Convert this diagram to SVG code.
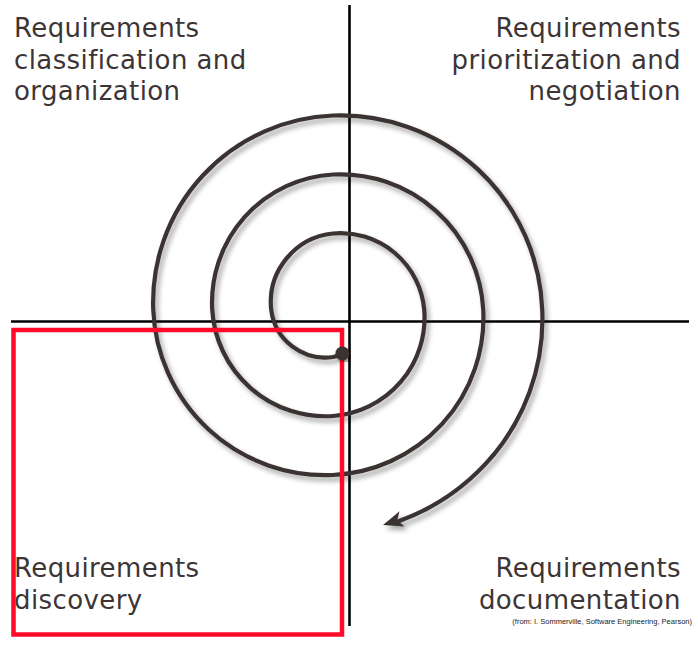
<svg xmlns="http://www.w3.org/2000/svg" width="698" height="648" viewBox="0 0 698 648">
  <style>
    .lbl { font-family: "DejaVu Sans", "Noto Sans", sans-serif; font-size: 26px; letter-spacing: 0.4px; fill: #3d3535; }
    .end { text-anchor: end; }
    .axis { stroke: #000; stroke-width: 2.6; fill: none; }
    .spiral { stroke: #3b3233; stroke-width: 4.2; fill: none; stroke-linecap: round; }
    .head { fill: #3b3233; }
    .frame { stroke: #ff0a2a; stroke-width: 4.5; fill: none; }
    .cite { font-family: "Liberation Sans", Arial, sans-serif; font-size: 7.5px; fill: #222; text-anchor: end; }
  </style>
  <defs>
    <filter id="shadow" x="-10%" y="-10%" width="120%" height="120%">
      <feDropShadow dx="3" dy="4" stdDeviation="2.5" flood-color="#000" flood-opacity="0.35"/>
    </filter>
  </defs>
  <rect width="698" height="648" fill="#fff"/>

  <g id="axes">
    <line class="axis" x1="11" y1="321.5" x2="689" y2="321.5"/>
    <line class="axis" x1="349.5" y1="5" x2="349.5" y2="626"/>
  </g>

  <g id="connectors">
    <g id="spiral" filter="url(#shadow)">
      <path class="spiral" d="M 342.4 354
        A 46 46 0 0 1 333 357
        A 54.4 54.4 0 0 1 271.25 310
        A 69.1 69.1 0 0 1 333 233.5
        A 83.9 83.9 0 0 1 424.25 310
        A 98.6 98.6 0 0 1 333 416
        A 113.4 113.4 0 0 1 212.25 310
        A 128.1 128.1 0 0 1 333 174.5
        A 142.9 142.9 0 0 1 483.25 310
        A 157.6 157.6 0 0 1 333 475
        A 172.4 172.4 0 0 1 153.25 310
        A 187.1 187.1 0 0 1 333 115.5
        A 201.9 201.9 0 0 1 542.25 310
        A 213 213 0 0 1 486.2 463.2
        A 219.5 219.5 0 0 1 398.5 521.2"/>
      <polygon class="head" points="383,525 399.5,511.2 397.3,520.3 404.5,526.4"/>
    </g>
  </g>

  <g id="discovery-frame">
    <rect class="frame" x="13.5" y="330" width="328.5" height="304.5"/>
  </g>

  <g id="spiral-start" filter="url(#shadow)">
    <circle cx="342.4" cy="353.5" r="7" fill="#3b3233"/>
  </g>

  <g id="q-classification">
    <text class="lbl" x="14" y="37">Requirements</text>
    <text class="lbl" x="14" y="68.5">classification and</text>
    <text class="lbl" x="14" y="100">organization</text>
  </g>
  <g id="q-prioritization">
    <text class="lbl end" x="681" y="37">Requirements</text>
    <text class="lbl end" x="681" y="68.5">prioritization and</text>
    <text class="lbl end" x="681" y="100">negotiation</text>
  </g>
  <g id="q-discovery">
    <text class="lbl" x="14" y="577">Requirements</text>
    <text class="lbl" x="14" y="608.5">discovery</text>
  </g>
  <g id="q-documentation">
    <text class="lbl end" x="681" y="577">Requirements</text>
    <text class="lbl end" x="681" y="608.5">documentation</text>
  </g>
  <g id="citation">
    <text class="cite" x="692" y="624">(from: I. Sommerville, Software Engineering, Pearson)</text>
  </g>
</svg>
